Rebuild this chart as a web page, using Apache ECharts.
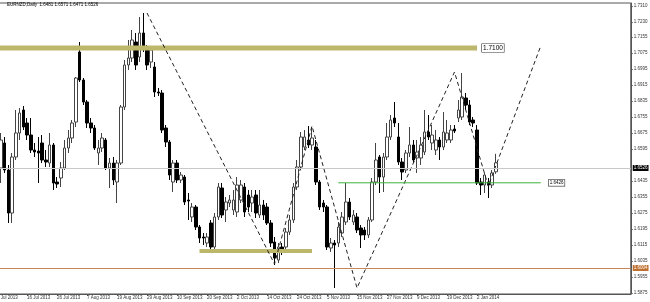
<!DOCTYPE html>
<html><head><meta charset="utf-8">
<script src="https://cdn.jsdelivr.net/npm/echarts@6/dist/echarts.min.js"></script>
<style>html,body{margin:0;padding:0;background:#fff}#c{width:650px;height:302px}</style>
</head><body><div id="c"></div>
<script>
const categories = [
'4 Jul 2013','5 Jul 2013','8 Jul 2013','9 Jul 2013','10 Jul 2013','11 Jul 2013','12 Jul 2013','15 Jul 2013','16 Jul 2013','17 Jul 2013','18 Jul 2013','19 Jul 2013','22 Jul 2013','23 Jul 2013','24 Jul 2013','25 Jul 2013','26 Jul 2013','29 Jul 2013','30 Jul 2013','31 Jul 2013',
'1 Aug 2013','2 Aug 2013','5 Aug 2013','6 Aug 2013','7 Aug 2013','8 Aug 2013','9 Aug 2013','12 Aug 2013','13 Aug 2013','14 Aug 2013','15 Aug 2013','16 Aug 2013','19 Aug 2013','20 Aug 2013','21 Aug 2013','22 Aug 2013','23 Aug 2013','26 Aug 2013','27 Aug 2013','28 Aug 2013','29 Aug 2013','30 Aug 2013',
'2 Sep 2013','3 Sep 2013','4 Sep 2013','5 Sep 2013','6 Sep 2013','9 Sep 2013','10 Sep 2013','11 Sep 2013','12 Sep 2013','13 Sep 2013','16 Sep 2013','17 Sep 2013','18 Sep 2013','19 Sep 2013','20 Sep 2013','23 Sep 2013','24 Sep 2013','25 Sep 2013','26 Sep 2013','27 Sep 2013','30 Sep 2013',
'1 Oct 2013','2 Oct 2013','3 Oct 2013','4 Oct 2013','7 Oct 2013','8 Oct 2013','9 Oct 2013','10 Oct 2013','11 Oct 2013','14 Oct 2013','15 Oct 2013','16 Oct 2013','17 Oct 2013','18 Oct 2013','21 Oct 2013','22 Oct 2013','23 Oct 2013','24 Oct 2013','25 Oct 2013','28 Oct 2013','29 Oct 2013','30 Oct 2013','31 Oct 2013',
'1 Nov 2013','4 Nov 2013','5 Nov 2013','6 Nov 2013','7 Nov 2013','8 Nov 2013','11 Nov 2013','12 Nov 2013','13 Nov 2013','14 Nov 2013','15 Nov 2013','18 Nov 2013','19 Nov 2013','20 Nov 2013','21 Nov 2013','22 Nov 2013','25 Nov 2013','26 Nov 2013','27 Nov 2013','28 Nov 2013','29 Nov 2013',
'2 Dec 2013','3 Dec 2013','4 Dec 2013','5 Dec 2013','6 Dec 2013','9 Dec 2013','10 Dec 2013','11 Dec 2013','12 Dec 2013','13 Dec 2013','16 Dec 2013','17 Dec 2013','18 Dec 2013','19 Dec 2013','20 Dec 2013','23 Dec 2013','24 Dec 2013','26 Dec 2013','27 Dec 2013','30 Dec 2013','31 Dec 2013',
'2 Jan 2014','3 Jan 2014','6 Jan 2014','7 Jan 2014','8 Jan 2014','9 Jan 2014'
];
const futureSlots = 36;

const opens = [1.6620,1.6500,1.6625,1.6490,1.6275,1.6555,1.6675,1.6790,1.6725,1.6665,
1.6590,1.6585,1.6625,1.6540,1.6525,1.6615,1.6430,1.6450,1.6500,1.6600,
1.6650,1.6730,1.7080,1.6940,1.6830,1.6725,1.6700,1.6575,1.6600,1.6640,
1.6500,1.6525,1.6430,1.6525,1.6805,1.7015,1.7050,1.7130,1.7055,1.7175,
1.7100,1.7030,1.7005,1.6880,1.6875,1.6700,1.6630,1.6430,1.6525,1.6440,
1.6455,1.6340,1.6255,1.6305,1.6205,1.6155,1.6125,1.6225,1.6105,1.6255,
1.6400,1.6290,1.6325,1.6290,1.6280,1.6340,1.6405,1.6365,1.6325,1.6365,
1.6265,1.6315,1.6305,1.6225,1.6130,1.6040,1.6105,1.6105,1.6180,1.6240,
1.6405,1.6505,1.6605,1.6640,1.6615,1.6605,1.6430,1.6325,1.6305,1.6100,
1.6125,1.6125,1.6175,1.6230,1.6330,1.6230,1.6255,1.6200,1.6190,1.6165,
1.6240,1.6430,1.6555,1.6455,1.6555,1.6655,1.6750,1.6655,1.6530,1.6490,
1.6575,1.6615,1.6550,1.6550,1.6580,1.6680,1.6625,1.6590,1.6640,1.6605,
1.6640,1.6640,1.6695,1.6750,1.6755,1.6850,1.6815,1.6740,1.6690,1.6430,
1.6415,1.6430,1.6415,1.6481];
const closes = [1.6500,1.6640,1.6490,1.6275,1.6555,1.6675,1.6775,1.6705,1.6665,1.6590,
1.6580,1.6575,1.6540,1.6530,1.6615,1.6425,1.6420,1.6500,1.6600,1.6650,
1.6725,1.6950,1.6940,1.6830,1.6725,1.6700,1.6600,1.6600,1.6650,1.6500,
1.6525,1.6440,1.6525,1.6805,1.7015,1.7050,1.7140,1.7015,1.7175,1.7100,
1.7015,1.7090,1.6880,1.6875,1.6690,1.6630,1.6465,1.6525,1.6440,1.6465,
1.6330,1.6335,1.6305,1.6205,1.6150,1.6150,1.6155,1.6105,1.6255,1.6405,
1.6265,1.6330,1.6340,1.6340,1.6415,1.6415,1.6280,1.6305,1.6355,1.6275,
1.6315,1.6265,1.6225,1.6125,1.6050,1.6105,1.6090,1.6180,1.6240,1.6405,
1.6505,1.6655,1.6655,1.6615,1.6650,1.6430,1.6305,1.6305,1.6105,1.6125,
1.6115,1.6205,1.6255,1.6330,1.6255,1.6265,1.6190,1.6165,1.6165,1.6240,
1.6430,1.6540,1.6455,1.6555,1.6655,1.6740,1.6725,1.6530,1.6480,1.6575,
1.6615,1.6540,1.6580,1.6615,1.6680,1.6655,1.6665,1.6640,1.6605,1.6680,
1.6675,1.6690,1.6685,1.6790,1.6855,1.6815,1.6730,1.6725,1.6425,1.6415,
1.6465,1.6415,1.6475,1.6526];
const lows = [1.6470,1.6425,1.6475,1.6225,1.6225,1.6540,1.6640,1.6690,1.6640,1.6575,
1.6555,1.6425,1.6525,1.6505,1.6505,1.6390,1.6400,1.6405,1.6490,1.6575,
1.6625,1.6705,1.6930,1.6815,1.6700,1.6675,1.6590,1.6515,1.6580,1.6490,
1.6400,1.6415,1.6325,1.6515,1.6790,1.6990,1.7030,1.6990,1.7030,1.7080,
1.6990,1.7000,1.6855,1.6860,1.6675,1.6605,1.6440,1.6380,1.6425,1.6425,
1.6315,1.6240,1.6230,1.6190,1.6125,1.6115,1.6105,1.6090,1.6090,1.6240,
1.6250,1.6230,1.6305,1.6265,1.6255,1.6325,1.6255,1.6280,1.6280,1.6250,
1.6250,1.6240,1.6215,1.6105,1.6015,1.6025,1.6065,1.6090,1.6165,1.6225,
1.6390,1.6490,1.6590,1.6600,1.6590,1.6415,1.6290,1.6280,1.6090,1.6080,
1.5900,1.6105,1.6155,1.6215,1.6240,1.6215,1.6175,1.6100,1.6140,1.6150,
1.6230,1.6415,1.6375,1.6380,1.6540,1.6640,1.6705,1.6515,1.6440,1.6475,
1.6555,1.6525,1.6475,1.6515,1.6565,1.6640,1.6590,1.6565,1.6540,1.6590,
1.6625,1.6625,1.6675,1.6730,1.6740,1.6790,1.6715,1.6705,1.6415,1.6365,
1.6375,1.6350,1.6400,1.6471];
const highs = [1.6650,1.6675,1.6655,1.6515,1.6575,1.6790,1.6800,1.6810,1.6750,1.6750,
1.6625,1.6655,1.6665,1.6590,1.6675,1.6625,1.6455,1.6530,1.6640,1.6690,
1.6740,1.6955,1.7130,1.6950,1.6840,1.6750,1.6715,1.6640,1.6675,1.6650,
1.6550,1.6555,1.6540,1.6815,1.7040,1.7140,1.7190,1.7175,1.7255,1.7275,
1.7115,1.7105,1.7030,1.6900,1.6890,1.6715,1.6640,1.6540,1.6540,1.6480,
1.6465,1.6375,1.6325,1.6315,1.6215,1.6175,1.6175,1.6240,1.6275,1.6425,
1.6425,1.6355,1.6365,1.6390,1.6455,1.6440,1.6425,1.6390,1.6390,1.6390,
1.6390,1.6340,1.6325,1.6240,1.6155,1.6125,1.6125,1.6200,1.6265,1.6425,
1.6540,1.6680,1.6690,1.6710,1.6705,1.6640,1.6440,1.6340,1.6315,1.6150,
1.6140,1.6230,1.6280,1.6425,1.6350,1.6290,1.6275,1.6215,1.6205,1.6255,
1.6450,1.6625,1.6565,1.6575,1.6725,1.6765,1.6830,1.6725,1.6550,1.6590,
1.6705,1.6640,1.6640,1.6655,1.6790,1.6765,1.6715,1.6690,1.6655,1.6780,
1.6740,1.6715,1.6715,1.6840,1.6975,1.6875,1.6840,1.6755,1.6715,1.6450,
1.6475,1.6450,1.6490,1.6571];

const yTickLabels = [1.7310,1.7230,1.7155,1.7075,1.6995,1.6915,1.6835,1.6755,1.6675,1.6595,1.6435,1.6355,1.6275,1.6195,1.6115,1.6035,1.5955,1.5875];

// drawn objects (bar index, price)
const upperZoneIdx = [0,128];      const upperZonePrice = [1.7100,1.7100];
const lowerZoneIdx = [54,84];      const lowerZonePrice = [1.6085,1.6085];
const greenIdx = [91,145];         const greenPrice = [1.6426,1.6426];
const patternIdx = [40,74,84,96,122,131,145];
const patternPrice = [1.7275,1.6020,1.6710,1.5900,1.6980,1.6410,1.7110];
const bidPrice = 1.6526;
const orangePrice = 1.6004;

const title = 'EURNZD,Daily  1.6481 1.6571 1.6471 1.6526';

const xData = categories.concat(new Array(futureSlots).fill(''));
const candles = opens.map((o,i)=>[o, closes[i], lows[i], highs[i]]);
const pairs = (a,b)=>a.map((x,k)=>[x,b[k]]);
const FONT = 'Liberation Sans';
const FS = 4.5;

const chart = echarts.init(document.getElementById('c'), null, {renderer:'canvas'});
chart.setOption({
  animation:false,
  backgroundColor:'#ffffff',
  title:{text:title,left:7,top:2,padding:0,textStyle:{fontSize:FS,fontWeight:'normal',color:'#000',fontFamily:FONT}},
  grid:{left:-3,right:19.25,top:3,bottom:8,outerBoundsMode:'none',containLabel:false,show:true,borderColor:'#555',borderWidth:1,backgroundColor:'transparent'},
  xAxis:{type:'category',data:xData,boundaryGap:false,
    axisLine:{lineStyle:{color:'#555',width:1}},
    axisTick:{show:true,length:2,lineStyle:{color:'#555'},interval:(i,v)=>i%8===0 && v!==''},
    axisLabel:{interval:(i,v)=>i%8===0 && v!=='',align:'left',margin:1,fontSize:FS,color:'#333',fontFamily:FONT},
    splitLine:{show:false}},
  yAxis:{type:'value',position:'right',min:1.5870,max:1.7325,scale:true,
    axisLine:{show:true,lineStyle:{color:'#555',width:1}},
    axisTick:{show:true,length:2,lineStyle:{color:'#555'},customValues:yTickLabels},
    axisLabel:{customValues:yTickLabels,formatter:v=>v.toFixed(4),fontSize:FS,color:'#333',margin:3,fontFamily:FONT},
    splitLine:{show:false}},
  series:[
    {type:'line',name:'upperZone',data:pairs(upperZoneIdx,upperZonePrice),showSymbol:false,
      lineStyle:{color:'#bdb76b',width:5},silent:true,
      endLabel:{show:true,formatter:'1.7100',distance:5,fontSize:6.5,color:'#000',backgroundColor:'#fff',borderColor:'#333',borderWidth:0.6,padding:[0.5,1],fontFamily:FONT},
      markLine:{symbol:'none',silent:true,animation:false,data:[
        {yAxis:bidPrice,lineStyle:{color:'#c8c8c8',width:1,type:'solid'},
          label:{position:'end',formatter:'1.6526',distance:2,fontSize:FS,color:'#fff',backgroundColor:'#000',padding:[0.5,1],fontFamily:FONT}},
        {yAxis:orangePrice,lineStyle:{color:'#c8865a',width:1,type:'solid'},
          label:{position:'end',formatter:'1.6004',distance:2,fontSize:FS,color:'#fff',backgroundColor:'#c0702e',padding:[0.5,1],fontFamily:FONT}}
      ]}},
    {type:'line',name:'lowerZone',data:pairs(lowerZoneIdx,lowerZonePrice),showSymbol:false,
      lineStyle:{color:'#bdb76b',width:4},silent:true},
    {type:'candlestick',name:'EURNZD',data:candles,barWidth:3,
      itemStyle:{color:'#ffffff',color0:'#000000',borderColor:'#444',borderColor0:'#000',borderWidth:1}},
    {type:'line',name:'pattern',data:pairs(patternIdx,patternPrice),showSymbol:false,
      lineStyle:{color:'#222',width:1,type:[4,3]},silent:true},
    {type:'line',name:'green',data:pairs(greenIdx,greenPrice),showSymbol:false,
      lineStyle:{color:'#3cb43c',width:1},silent:true,
      endLabel:{show:true,formatter:'1.6426',distance:8,fontSize:FS,color:'#000',backgroundColor:'#fff',borderColor:'#333',borderWidth:0.6,padding:[0.5,1],fontFamily:FONT}}
  ]
});
</script></body></html>
